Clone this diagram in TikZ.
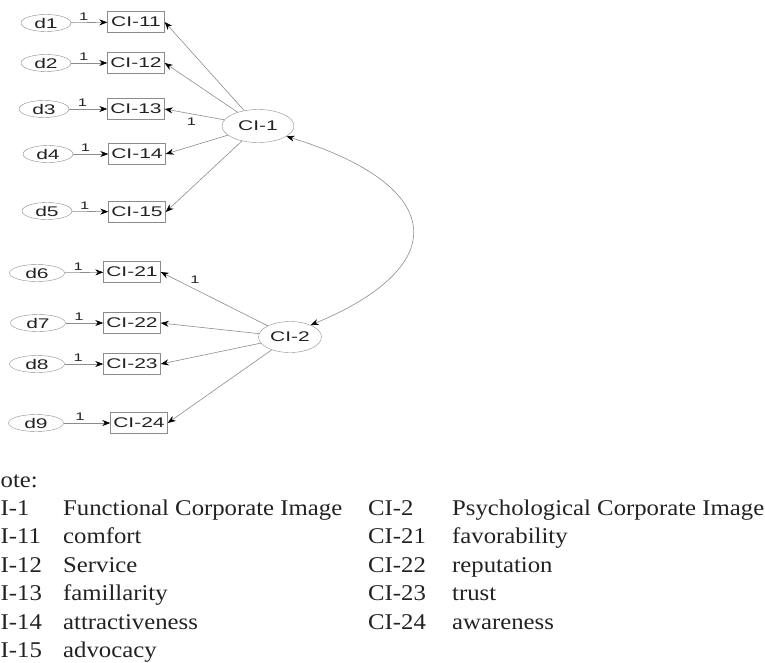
\documentclass[tikz,border=0pt]{standalone}
\usepackage{fontspec}
\setmainfont{Liberation Serif}[FakeStretch=1.1]
\newfontfamily\diagfont{Liberation Sans}[FakeStretch=1.5]
\usetikzlibrary{shapes.geometric, arrows.meta}
\definecolor{edgegray}{HTML}{8C8C8C}
\definecolor{inkgray}{HTML}{222222}
\tikzstyle{error} = [ellipse, draw=edgegray, minimum width=50pt, minimum height=17pt, inner sep=0pt, text=inkgray, font={\diagfont\fontsize{14}{16}\selectfont}]
\tikzstyle{latent} = [ellipse, draw=edgegray, minimum width=72pt, minimum height=33pt, inner sep=0pt, text=inkgray, font={\diagfont\fontsize{14}{16}\selectfont}]
\tikzstyle{indicator} = [rectangle, draw=edgegray, minimum width=57pt, minimum height=21pt, inner sep=0pt, text=inkgray, font={\diagfont\fontsize{14}{16}\selectfont}]
\tikzstyle{one} = [above=1pt, pos=0.35, inner sep=1pt, text=inkgray, font={\diagfont\fontsize{11}{12}\selectfont}]
\tikzstyle{fixed_path} = [draw=edgegray, line width=0.6pt, -{Stealth[length=8pt, width=6pt, color=black]}]
\tikzstyle{loading} = [draw=edgegray, line width=0.6pt, -{Stealth[length=8pt, width=6pt, color=black]}]
\tikzstyle{corr} = [draw=edgegray, line width=0.6pt, {Stealth[length=8pt, width=6pt, color=black]}-{Stealth[length=8pt, width=6pt, color=black]}]
\tikzstyle{note} = [anchor=base west, inner sep=0pt, text=inkgray, font={\fontsize{22.5}{27}\selectfont}]

\begin{document}
\begin{tikzpicture}[x=1pt, y=-1pt]

    \useasboundingbox (0,0) rectangle (765,662);

    % first factor
    \node (ci1) [latent] at (258,126) {CI-1};

    \node (d1) [error] at (46,23) {d1};
    \node (ci11) [indicator] at (136,22) {CI-11};
    \node (d2) [error] at (46,63) {d2};
    \node (ci12) [indicator] at (136,63) {CI-12};
    \node (d3) [error] at (44,109) {d3};
    \node (ci13) [indicator] at (136,109) {CI-13};
    \node (d4) [error] at (48,154) {d4};
    \node (ci14) [indicator] at (137,154) {CI-14};
    \node (d5) [error] at (47,211) {d5};
    \node (ci15) [indicator] at (137,212) {CI-15};

    \draw [fixed_path] (d1) -- node [one] {1} (ci11);
    \draw [fixed_path] (d2) -- node [one] {1} (ci12);
    \draw [fixed_path] (d3) -- node [one] {1} (ci13);
    \draw [fixed_path] (d4) -- node [one] {1} (ci14);
    \draw [fixed_path] (d5) -- node [one] {1} (ci15);

    \draw [loading] (ci1) -- (ci11.east);
    \draw [loading] (ci1) -- (ci12.east);
    \draw [loading] (ci1) -- node [pos=0.55, below=3pt, inner sep=1pt, text=inkgray, font={\diagfont\fontsize{11}{12}\selectfont}] {1} (ci13.east);
    \draw [loading] (ci1) -- (ci14.east);
    \draw [loading] (ci1) -- (ci15.east);

    % second factor
    \node (ci2) [latent, minimum width=63pt, minimum height=31pt] at (290,337) {CI-2};

    \node (d6) [error, minimum width=55pt] at (37,273) {d6};
    \node (ci21) [indicator] at (132,272) {CI-21};
    \node (d7) [error, minimum width=55pt] at (38,323) {d7};
    \node (ci22) [indicator] at (132,323) {CI-22};
    \node (d8) [error, minimum width=55pt] at (37,364) {d8};
    \node (ci23) [indicator] at (132,364) {CI-23};
    \node (d9) [error, minimum width=55pt] at (36,423) {d9};
    \node (ci24) [indicator] at (139,423) {CI-24};

    \draw [fixed_path] (d6) -- node [one] {1} (ci21);
    \draw [fixed_path] (d7) -- node [one] {1} (ci22);
    \draw [fixed_path] (d8) -- node [one] {1} (ci23);
    \draw [fixed_path] (d9) -- node [one] {1} (ci24);

    \draw [loading] (ci2) -- node [pos=0.68, above=4pt, inner sep=1pt, text=inkgray, font={\diagfont\fontsize{11}{12}\selectfont}] {1} (ci21.east);
    \draw [loading] (ci2) -- (ci22.east);
    \draw [loading] (ci2) -- (ci23.east);
    \draw [loading] (ci2) -- (ci24.east);

    % covariance between the factors
    \draw [corr] (ci1.-20) .. controls (445,185) and (455,265) .. (ci2.30);

    % legend
    \node (notehead) [note] at (0.5,487) {ote:};

    \node (k1) [note] at (0.5,515) {I-1};
    \node (v1) [note] at (63,515) {Functional Corporate Image};
    \node (k11) [note] at (0.5,543.5) {I-11};
    \node (v11) [note] at (63,543.5) {comfort};
    \node (k12) [note] at (0.5,572) {I-12};
    \node (v12) [note] at (63,572) {Service};
    \node (k13) [note] at (0.5,600.5) {I-13};
    \node (v13) [note] at (63,600.5) {famillarity};
    \node (k14) [note] at (0.5,629) {I-14};
    \node (v14) [note] at (63,629) {attractiveness};
    \node (k15) [note] at (0.5,657.5) {I-15};
    \node (v15) [note] at (63,657.5) {advocacy};

    \node (k2) [note] at (368,515) {CI-2};
    \node (v2) [note] at (452,515) {Psychological Corporate Image};
    \node (k21) [note] at (368,543.5) {CI-21};
    \node (v21) [note] at (452,543.5) {favorability};
    \node (k22) [note] at (368,572) {CI-22};
    \node (v22) [note] at (452,572) {reputation};
    \node (k23) [note] at (368,600.5) {CI-23};
    \node (v23) [note] at (452,600.5) {trust};
    \node (k24) [note] at (368,629) {CI-24};
    \node (v24) [note] at (452,629) {awareness};

\end{tikzpicture}
\end{document}
